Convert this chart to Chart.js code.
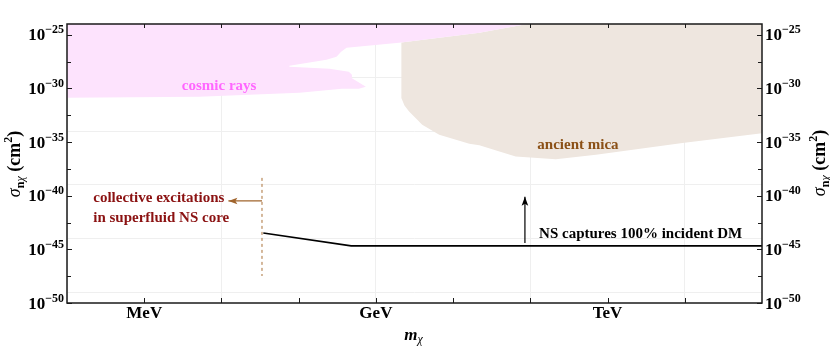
<!DOCTYPE html>
<html><head><meta charset="utf-8">
<script src="https://cdn.jsdelivr.net/npm/chart.js@4.4.0/dist/chart.umd.min.js"></script>
<style>html,body{margin:0;padding:0;background:#fff;}canvas{display:block;}</style>
</head><body>
<canvas id="c" width="830" height="347"></canvas>
<script>
// x = log10(m_chi / GeV), y = log10(sigma / cm^2)
const cosmicX = [-4, -4, -2.29, -0.99, -0.44, -0.22, -0.13, -0.32, -0.31, -0.35, -0.60, -1.12, -1.12, -0.64, -0.51, -0.45, -0.38, 0.30, 1.34, 1.96, -4];
const cosmicY = [-24, -30.88, -30.78, -30.41, -30.04, -30.04, -29.85, -29.01, -28.73, -28.45, -28.17, -27.99, -27.89, -27.33, -27.05, -26.59, -26.21, -25.75, -24.81, -24, -24];
const micaX = [0.33, 0.33, 0.37, 0.43, 0.60, 0.82, 1.21, 1.34, 1.60, 1.81, 2.33, 2.85, 3.97, 5, 5, 1.96, 1.34, 0.33];
const micaY = [-25.72, -30.90, -31.60, -32.15, -33.40, -34.33, -35.17, -35.29, -35.89, -36.35, -36.60, -36.19, -35.10, -34.17, -24, -24, -24.81, -25.72];
const nsX = [-1.458, -0.32, 5];
const nsY = [-43.47, -44.68, -44.68];
const superfluidX = [-1.475, -1.475];
const superfluidY = [-38.34, -47.48];
const superArrowX = [-1.475, -1.91];
const superArrowY = [-40.49, -40.49];
const nsArrowX = [1.93, 1.93];
const nsArrowY = [-44.40, -40.10];

const xTickValues = [-3, -2, -1, 0, 1, 2, 3, 4];
const xLabelValues = [-3, 0, 3];
const xLabelNames = ['MeV', 'GeV', 'TeV'];
const yMajorTicks = [-50, -45, -40, -35, -30, -25];
const yMinorTicks = [-47.5, -42.5, -37.5, -32.5, -27.5];
const xGridValues = [-4, -2, 0, 2, 4];
const yGridValues = [-49, -44, -39, -34, -29, -24];

const annotations = [
  {text: 'cosmic rays', x: -2.03, y: -29.8, color: '#ff66ff', align: 'center'},
  {text: 'ancient mica', x: 2.617, y: -35.26, color: '#8b5016', align: 'center'},
  {text: 'collective excitations', x: -3.66, y: -40.2, color: '#8b1212', align: 'left'},
  {text: 'in superfluid NS core', x: -3.66, y: -42.12, color: '#8b1212', align: 'left'},
  {text: 'NS captures 100% incident DM', x: 2.113, y: -43.55, color: '#000000', align: 'left'}
];

const pts = (xs, ys) => xs.map((v, i) => ({x: v, y: ys[i]}));
const SERIF = '"Liberation Serif", "Times New Roman", serif';

const decor = {
  id: 'decor',
  afterDatasetsDraw(chart) {
    const {ctx, scales: {x, y}} = chart;
    ctx.save();
    chart.data.datasets.forEach((ds, i) => {
      if (!ds.arrowHead) return;
      const el = chart.getDatasetMeta(i).data;
      const p1 = el[el.length - 2], p2 = el[el.length - 1];
      const ang = Math.atan2(p2.y - p1.y, p2.x - p1.x);
      ctx.save();
      ctx.translate(p2.x, p2.y);
      ctx.rotate(ang);
      ctx.fillStyle = ds.borderColor;
      ctx.beginPath();
      ctx.moveTo(0, 0);
      ctx.lineTo(-9, -3.3);
      ctx.lineTo(-7, 0);
      ctx.lineTo(-9, 3.3);
      ctx.closePath();
      ctx.fill();
      ctx.restore();
    });
    ctx.font = 'bold 15px ' + SERIF;
    ctx.textBaseline = 'middle';
    annotations.forEach(a => {
      ctx.fillStyle = a.color;
      ctx.textAlign = a.align;
      ctx.fillText(a.text, x.getPixelForValue(a.x), y.getPixelForValue(a.y));
    });
    ctx.restore();
  },
  afterDraw(chart) {
    const {ctx, chartArea: a, scales: {x, y}} = chart;
    ctx.save();
    ctx.strokeStyle = '#1a1a1a';
    ctx.lineWidth = 1;
    xTickValues.forEach(v => {
      const px = Math.round(x.getPixelForValue(v)) + 0.5;
      ctx.beginPath();
      ctx.moveTo(px, a.bottom); ctx.lineTo(px, a.bottom - 5);
      ctx.moveTo(px, a.top); ctx.lineTo(px, a.top + 4);
      ctx.stroke();
    });
    yMajorTicks.concat(yMinorTicks).forEach(v => {
      const py = Math.round(y.getPixelForValue(v)) + 0.5;
      const len = yMajorTicks.includes(v) ? 5 : 4;
      ctx.beginPath();
      ctx.moveTo(a.left, py); ctx.lineTo(a.left + len, py);
      ctx.moveTo(a.right, py); ctx.lineTo(a.right - len, py);
      ctx.stroke();
    });
    ctx.lineWidth = 1.5;
    ctx.strokeRect(a.left, a.top, a.right - a.left, a.bottom - a.top);

    ctx.fillStyle = '#000';
    ctx.font = 'bold 17px ' + SERIF;
    ctx.textAlign = 'center';
    ctx.textBaseline = 'alphabetic';
    xLabelValues.forEach((v, i) => {
      ctx.fillText(xLabelNames[i], x.getPixelForValue(v), a.bottom + 15);
    });
    yMajorTicks.forEach(v => {
      const py = y.getPixelForValue(v);
      const exp = '\u2212' + Math.abs(v);
      ctx.textAlign = 'left';
      ctx.font = 'bold 17px ' + SERIF;
      const w10 = ctx.measureText('10').width;
      ctx.font = 'bold 12px ' + SERIF;
      const wE = ctx.measureText(exp).width;
      const drawAt = (sx) => {
        ctx.font = 'bold 17px ' + SERIF;
        ctx.fillText('10', sx, py + 5.5);
        ctx.font = 'bold 12px ' + SERIF;
        ctx.fillText(exp, sx + w10, py - 1.5);
      };
      drawAt(a.left - 3 - w10 - wE);
      drawAt(a.right + 3);
    });
    ctx.font = 'bold italic 17px ' + SERIF;
    const wm = ctx.measureText('m').width;
    ctx.font = 'italic 12px ' + SERIF;
    const wc = ctx.measureText('\u03c7').width;
    const cx = (a.left + a.right) / 2 - 1 - (wm + wc) / 2;
    ctx.textAlign = 'left';
    ctx.font = 'bold italic 17px ' + SERIF;
    ctx.fillText('m', cx, 339.5);
    ctx.font = 'italic 12px ' + SERIF;
    ctx.fillText('\u03c7', cx + wm, 342.5);
    const yTitle = (bx, cy) => {
      const parts = [
        {t: '\u03c3', f: 'italic 18px ', dy: 0},
        {t: 'n', f: 'bold 12px ', dy: 4},
        {t: '\u03c7', f: 'italic 12px ', dy: 4},
        {t: ' (cm', f: 'bold 18px ', dy: 0},
        {t: '2', f: 'bold 12px ', dy: -8},
        {t: ')', f: 'bold 18px ', dy: 0}
      ];
      let total = 0;
      parts.forEach(p => { ctx.font = p.f + SERIF; p.w = ctx.measureText(p.t).width; total += p.w; });
      ctx.save();
      ctx.translate(bx, cy);
      ctx.rotate(-Math.PI / 2);
      let sx = -total / 2;
      ctx.textAlign = 'left';
      parts.forEach(p => { ctx.font = p.f + SERIF; ctx.fillText(p.t, sx, p.dy); sx += p.w; });
      ctx.restore();
    };
    yTitle(20, 164);
    yTitle(825, 163);
    ctx.restore();
  }
};

new Chart(document.getElementById('c'), {
  type: 'line',
  data: {
    datasets: [
      {label: 'superfluid arrow', data: pts(superArrowX, superArrowY), borderColor: '#a0642c', borderWidth: 1.2, pointRadius: 0, fill: false, arrowHead: true},
      {label: 'NS arrow', data: pts(nsArrowX, nsArrowY), borderColor: '#000000', borderWidth: 1.2, pointRadius: 0, fill: false, arrowHead: true},
      {label: 'NS capture', data: pts(nsX, nsY), borderColor: '#000000', borderWidth: 1.6, pointRadius: 0, fill: false},
      {label: 'superfluid limit', data: pts(superfluidX, superfluidY), borderColor: '#c29a72', borderWidth: 1.4, borderDash: [3, 3], pointRadius: 0, fill: false},
      {label: 'cosmic rays', data: pts(cosmicX, cosmicY), borderWidth: 0, borderColor: 'rgba(0,0,0,0)', backgroundColor: '#fde3fd', pointRadius: 0, fill: 'shape'},
      {label: 'ancient mica', data: pts(micaX, micaY), borderWidth: 0, borderColor: 'rgba(0,0,0,0)', backgroundColor: '#eee6df', pointRadius: 0, fill: 'shape'}
    ]
  },
  options: {
    responsive: false,
    animation: false,
    layout: {padding: {left: 67, right: 68, top: 24, bottom: 44}},
    plugins: {legend: {display: false}, tooltip: {enabled: false}},
    elements: {line: {tension: 0}},
    scales: {
      x: {
        type: 'linear', min: -4, max: 5,
        ticks: {display: false},
        afterBuildTicks: (s) => { s.ticks = xGridValues.map(v => ({value: v})); },
        grid: {color: '#efefef', lineWidth: 1, drawTicks: false},
        border: {display: false}
      },
      y: {
        type: 'linear', min: -50, max: -24,
        ticks: {display: false},
        afterBuildTicks: (s) => { s.ticks = yGridValues.map(v => ({value: v})); },
        grid: {color: '#efefef', lineWidth: 1, drawTicks: false},
        border: {display: false}
      }
    }
  },
  plugins: [decor]
});
</script>
</body></html>
